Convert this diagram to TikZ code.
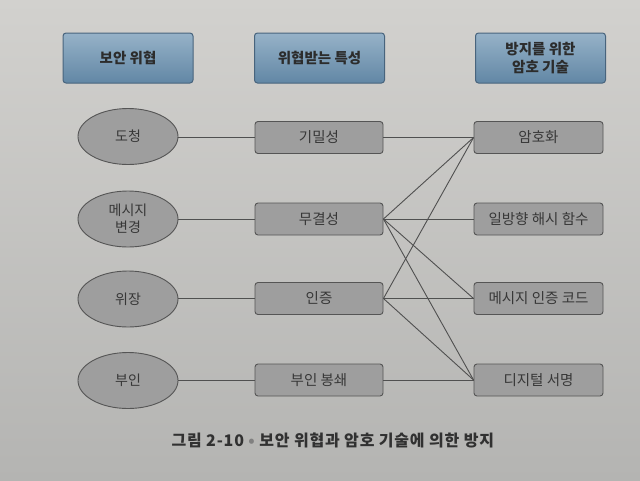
\documentclass[tikz,border=0pt]{standalone}
\usepackage{fontspec}
\setmainfont{Noto Sans CJK KR}
\definecolor{bgtop}{RGB}{210,209,206}
\definecolor{bgbot}{RGB}{180,180,178}
\definecolor{hdtop}{RGB}{150,178,200}
\definecolor{hdbot}{RGB}{98,135,165}
\definecolor{hdline}{RGB}{72,100,125}
\definecolor{shapefill}{RGB}{158,158,158}
\definecolor{shapeline}{RGB}{85,85,85}
\definecolor{txt}{RGB}{55,55,55}
\definecolor{linkc}{RGB}{80,80,80}
\usetikzlibrary{shapes.geometric}
\tikzset{
  header/.style={draw=hdline, line width=1pt, rounded corners=3pt, top color=hdtop, bottom color=hdbot,
    minimum width=130pt, minimum height=50pt, align=center, text=txt!80!black,
    font=\fontsize{14.5}{18}\selectfont\bfseries, inner sep=0pt},
  threat/.style={ellipse, draw=shapeline, line width=0.9pt, fill=shapefill, minimum width=100pt,
    minimum height=56pt, inner sep=0pt, align=center, text=txt, font=\fontsize{14}{17}\selectfont},
  prop/.style={draw=shapeline, line width=0.9pt, fill=shapefill, rounded corners=3pt,
    minimum width=128pt, minimum height=32pt, inner sep=0pt, text=txt, font=\fontsize{14.5}{17}\selectfont},
  link/.style={draw=linkc, line width=0.9pt}
}
\begin{document}
\begin{tikzpicture}[x=1pt,y=-1pt]
\shade[top color=bgtop, bottom color=bgbot] (0,0) rectangle (640,480);
\useasboundingbox (0,0) rectangle (640,480);
% headers
\node[header] (h1) at (128,58) {보안 위협};
\node[header] (h2) at (319.5,58) {위협받는 특성};
\node[header] (h3) at (540.5,58) {방지를 위한\\암호 기술};
% threats
\node[threat] (t1) at (128,136.5) {도청};
\node[threat] (t2) at (128,219) {메시지\\변경};
\node[threat] (t3) at (128,299) {위장};
\node[threat] (t4) at (128,380.5) {부인};
% properties
\node[prop] (p1) at (319,137.5) {기밀성};
\node[prop] (p2) at (319,219) {무결성};
\node[prop] (p3) at (319,298.5) {인증};
\node[prop] (p4) at (319,380) {부인 봉쇄};
% techniques
\node[prop, minimum width=129pt] (c1) at (538.5,137.5) {암호화};
\node[prop, minimum width=129pt] (c2) at (538.5,219) {일방향 해시 함수};
\node[prop, minimum width=129pt] (c3) at (538.5,298.5) {메시지 인증 코드};
\node[prop, minimum width=129pt] (c4) at (538.5,380) {디지털 서명};
% links
\draw[link] (t1.east |- p1.west) -- (p1.west);
\draw[link] (t2.east |- p2.west) -- (p2.west);
\draw[link] (t3.east |- p3.west) -- (p3.west);
\draw[link] (t4.east |- p4.west) -- (p4.west);
\draw[link] (p1.east) -- (c1.west);
\draw[link] (p2.east) -- (c1.west);
\draw[link] (p2.east) -- (c2.west);
\draw[link] (p2.east) -- (c3.west);
\draw[link] (p2.east) -- (c4.west);
\draw[link] (p3.east) -- (c1.west);
\draw[link] (p3.east) -- (c3.west);
\draw[link] (p3.east) -- (c4.west);
\draw[link] (p4.east) -- (c4.west);
% caption
\node[text=txt!90!black, font=\fontsize{16}{19}\selectfont\bfseries\addfontfeatures{LetterSpace=5}, anchor=west] (cap) at (168,440) {그림 2-10 {\color{gray}\textbullet} 보안 위협과 암호 기술에 의한 방지};
\end{tikzpicture}
\end{document}
